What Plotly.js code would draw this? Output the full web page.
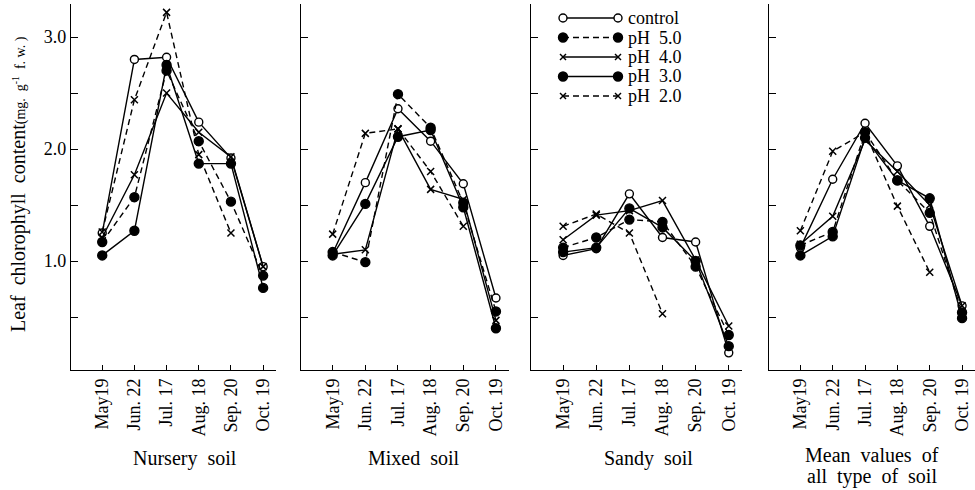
<!DOCTYPE html>
<html><head><meta charset="utf-8">
<script src="https://cdn.plot.ly/plotly-3.0.1.min.js"></script>
<style>html,body{margin:0;padding:0;background:#fff}#chart{width:975px;height:490px}</style>
</head><body><div id="chart"></div>
<script>
const dates = ["May19","Jun. 22","Jul. 17","Aug. 18","Sep. 20","Oct. 19"];
const seriesNames = ["control","pH  5.0","pH  4.0","pH  3.0","pH  2.0"];
const panelTitles = ["Nursery  soil","Mixed  soil","Sandy  soil","Mean  values  of","all  type  of  soil"];
const yTickVals = [0.5,1.0,1.5,2.0,2.5,3.0];
const yTickText = ["","1.0","","2.0","","3.0"];

const nurseryControl = [1.25,2.80,2.82,2.24,1.92,0.95];
const nurseryPH5     = [1.17,1.57,2.70,2.07,1.53,0.87];
const nurseryPH4     = [1.21,1.77,2.50,2.15,1.93,0.95];
const nurseryPH3     = [1.05,1.27,2.75,1.87,1.87,0.76];
const nurseryPH2     = [1.26,2.44,3.22,1.95,1.25,null];

const mixedControl = [1.07,1.70,2.36,2.07,1.69,0.67];
const mixedPH5     = [1.08,0.99,2.49,2.19,1.52,0.55];
const mixedPH4     = [1.06,1.10,2.18,1.64,1.55,0.47];
const mixedPH3     = [1.05,1.51,2.11,2.17,1.48,0.40];
const mixedPH2     = [1.24,2.14,2.18,1.80,1.31,null];

const sandyControl = [1.05,1.11,1.60,1.21,1.17,0.18];
const sandyPH5     = [1.12,1.21,1.37,1.35,0.95,0.34];
const sandyPH4     = [1.19,1.41,1.45,1.54,1.01,0.42];
const sandyPH3     = [1.08,1.12,1.47,1.30,1.00,0.24];
const sandyPH2     = [1.31,1.42,1.25,0.53,null,null];

const meanControl = [1.12,1.73,2.23,1.85,1.31,0.60];
const meanPH5     = [1.14,1.26,2.15,1.72,1.43,0.54];
const meanPH4     = [1.15,1.40,2.08,1.80,1.50,0.60];
const meanPH3     = [1.05,1.22,2.10,1.72,1.56,0.49];
const meanPH2     = [1.27,1.98,2.15,1.49,0.90,null];

const panels = [
  [nurseryControl,nurseryPH5,nurseryPH4,nurseryPH3,nurseryPH2],
  [mixedControl,mixedPH5,mixedPH4,mixedPH3,mixedPH2],
  [sandyControl,sandyPH5,sandyPH4,sandyPH3,sandyPH2],
  [meanControl,meanPH5,meanPH4,meanPH3,meanPH2]
];

const W = 975, H = 490;
const px = x => x / W, py = y => 1 - y / H;
const FONT = "Liberation Serif, Times New Roman, serif";
const DASH = "6px,4px";
const styles = [
  {sym:"circle", fill:"white", dash:"solid"},
  {sym:"circle", fill:"black", dash:DASH},
  {sym:"x-thin", fill:"black", dash:"solid"},
  {sym:"circle", fill:"black", dash:"solid"},
  {sym:"x-thin", fill:"black", dash:DASH}
];
const xDomains = [[71,276],[301,509],[531,742],[769,975]];
const titleCenters = [185,414,648,872];

const xIdx = dates.map((d,i)=>i);
const traces = [];
panels.forEach((pan, p) => {
  const sfx = p === 0 ? "" : String(p+1);
  pan.forEach((vals, s) => {
    const st = styles[s];
    const isX = st.sym === "x-thin";
    traces.push({
      type:"scatter", mode:"lines+markers",
      x: xIdx, y: vals, name: seriesNames[s], showlegend:false,
      xaxis:"x"+sfx, yaxis:"y"+sfx,
      line:{color:"black", width:1.4, dash:st.dash},
      marker: isX ? {symbol:"x-thin", size:7, color:"black", line:{color:"black", width:1.5}}
                  : {symbol:"circle", size:(st.fill==="white"?8:9), color:st.fill, line:{color:"black", width:1.4}},
      hoverinfo:"skip"
    });
  });
});

const layout = {
  width:W, height:H, margin:{l:0,r:0,t:0,b:0},
  paper_bgcolor:"white", plot_bgcolor:"white",
  font:{family:FONT, color:"black"},
  showlegend:false, shapes:[], annotations:[]
};
const yDom = [py(370), py(4)];
xDomains.forEach((d, p) => {
  const sfx = p === 0 ? "" : String(p+1);
  layout["xaxis"+sfx] = {
    domain:[px(d[0]), px(d[1])], range:[-0.97,5.4], anchor:"y"+sfx,
    tickmode:"array", tickvals:xIdx, ticktext:dates, tickangle:-90,
    tickfont:{family:FONT, size:18, color:"black"},
    ticks:"inside", ticklen:5, tickwidth:1, tickcolor:"black",
    showline:true, linecolor:"black", linewidth:1.2,
    showgrid:false, zeroline:false, fixedrange:true
  };
  layout["yaxis"+sfx] = {
    domain:yDom, range:[0.027,3.295], anchor:"x"+sfx,
    tickmode:"array", tickvals:yTickVals, ticktext: p===0 ? yTickText : yTickVals.map(()=>""),
    showticklabels: p===0,
    tickfont:{family:FONT, size:18, color:"black"},
    ticks:"inside", ticklen:7, tickwidth:1, tickcolor:"black",
    showline:true, linecolor:"black", linewidth:1.2,
    showgrid:false, zeroline:false, fixedrange:true
  };
});

// panel titles
[[0,458],[1,458],[2,458],[3,455],[3,476]].forEach((t,i) => {
  layout.annotations.push({
    xref:"paper", yref:"paper", x:px(titleCenters[t[0]]), y:py(t[1]),
    xanchor:"center", yanchor:"middle", showarrow:false,
    text:panelTitles[i], font:{family:FONT, size:20, color:"black"}
  });
});
// y axis title
layout.annotations.push({
  xref:"paper", yref:"paper", x:px(18), y:py(184), xanchor:"center", yanchor:"middle",
  showarrow:false, textangle:-90,
  text:"Leaf  chlorophyll  content<span style='font-size:14px'>(mg.  g<sup>-1</sup>  f. w. )</span>",
  font:{family:FONT, size:20, color:"black"}
});

// legend (drawn as key decorations)
const legendRows = [18,37.5,57,76.5,96];
const lx0 = 563, lx1 = 618;
legendRows.forEach((ry, s) => {
  const st = styles[s];
  layout.shapes.push({type:"line", xref:"paper", yref:"paper", x0:px(lx0), x1:px(lx1), y0:py(ry), y1:py(ry),
    line:{color:"black", width:1.4, dash:st.dash}});
  [lx0, lx1].forEach(cx => {
    if (st.sym === "x-thin") {
      const r = 3;
      layout.shapes.push({type:"line", xref:"paper", yref:"paper", x0:px(cx-r), x1:px(cx+r), y0:py(ry-r), y1:py(ry+r), line:{color:"black", width:1.4}});
      layout.shapes.push({type:"line", xref:"paper", yref:"paper", x0:px(cx-r), x1:px(cx+r), y0:py(ry+r), y1:py(ry-r), line:{color:"black", width:1.4}});
    } else {
      const r = st.fill === "white" ? 4 : 4.5;
      layout.shapes.push({type:"circle", xref:"paper", yref:"paper", xsizemode:"pixel", ysizemode:"pixel",
        xanchor:px(cx), yanchor:py(ry), x0:-r, x1:r, y0:-r, y1:r,
        fillcolor:st.fill, line:{color:"black", width:1.4}});
    }
  });
  layout.annotations.push({xref:"paper", yref:"paper", x:px(626), y:py(ry), xanchor:"left", yanchor:"middle",
    showarrow:false, text:seriesNames[s], font:{family:FONT, size:18, color:"black"}});
});

Plotly.newPlot("chart", traces, layout, {staticPlot:true, displayModeBar:false});
</script></body></html>
